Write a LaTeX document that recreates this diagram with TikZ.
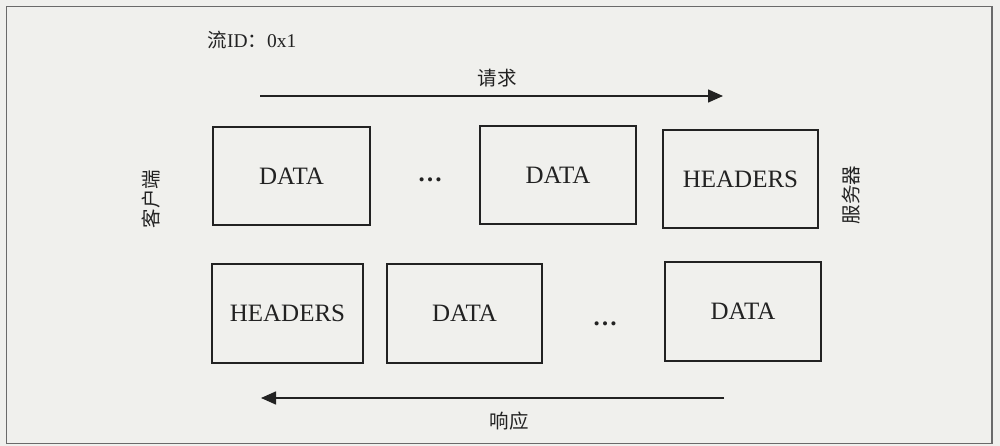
\documentclass[tikz,border=0pt]{standalone}
\usepackage{fontspec}
\setmainfont{Liberation Serif}
\newfontfamily\cjk{Noto Sans CJK SC}
\usetikzlibrary{arrows.meta}
\definecolor{paper}{HTML}{F0F0ED}
\definecolor{ink}{HTML}{222222}
\definecolor{framecol}{HTML}{6A6A6A}
\tikzset{
  frame/.style={draw=framecol, line width=1.5bp},
  frm/.style={draw=ink, line width=2bp, minimum width=155bp, minimum height=98bp,
    inner sep=0pt, font=\fontsize{25bp}{30bp}\selectfont, text=ink},
  dotsnode/.style={anchor=base, inner sep=0pt, font=\fontsize{25bp}{28bp}\selectfont\bfseries, text=ink},
  lbl/.style={inner sep=0pt, font=\fontsize{19.5bp}{23bp}\selectfont, text=ink},
  side/.style={lbl, rotate=90},
  flow/.style={draw=ink, line width=1.5bp, -{Triangle[length=15bp, width=13bp]}}
}
\begin{document}
\begin{tikzpicture}[x=1bp, y=-1bp]
  % page and outer frame
  \fill[paper] (0,0) rectangle (1000,446);
  \useasboundingbox (0,0) rectangle (1000,446);
  \draw[frame] (6.5,6.5) rectangle (992,443.5);

  % stream label
  \node[lbl] (stream) at (252,40) {{\cjk 流}ID{\cjk ：}0x1};

  % request direction
  \node[lbl] (req) at (497,78) {\cjk 请求};
  \coordinate (reqA) at (260,96);
  \coordinate (reqB) at (723,96);
  \draw[flow] (reqA) -- (reqB);

  % request frames
  \node[frm, minimum width=157bp] (t1) at (291.5,176) {DATA};
  \node[dotsnode] (tdots) at (430,182) {\ldots};
  \node[frm, minimum width=156bp] (t2) at (558,175) {DATA};
  \node[frm] (t3) at (740.5,179) {HEADERS};

  % endpoints
  \node[side] (client) at (151,199) {\cjk 客户端};
  \node[side] (server) at (851,195) {\cjk 服务器};

  % response frames
  \node[frm, minimum width=151bp, minimum height=99bp] (b1) at (287.5,313.5) {HEADERS};
  \node[frm, minimum height=99bp] (b2) at (464.5,313.5) {DATA};
  \node[dotsnode] (bdots) at (605,326) {\ldots};
  \node[frm, minimum width=156bp, minimum height=99bp] (b3) at (743,311.5) {DATA};

  % response direction
  \coordinate (resA) at (724,398);
  \coordinate (resB) at (261,398);
  \draw[flow] (resA) -- (resB);
  \node[lbl] (res) at (509,421) {\cjk 响应};
\end{tikzpicture}
\end{document}
